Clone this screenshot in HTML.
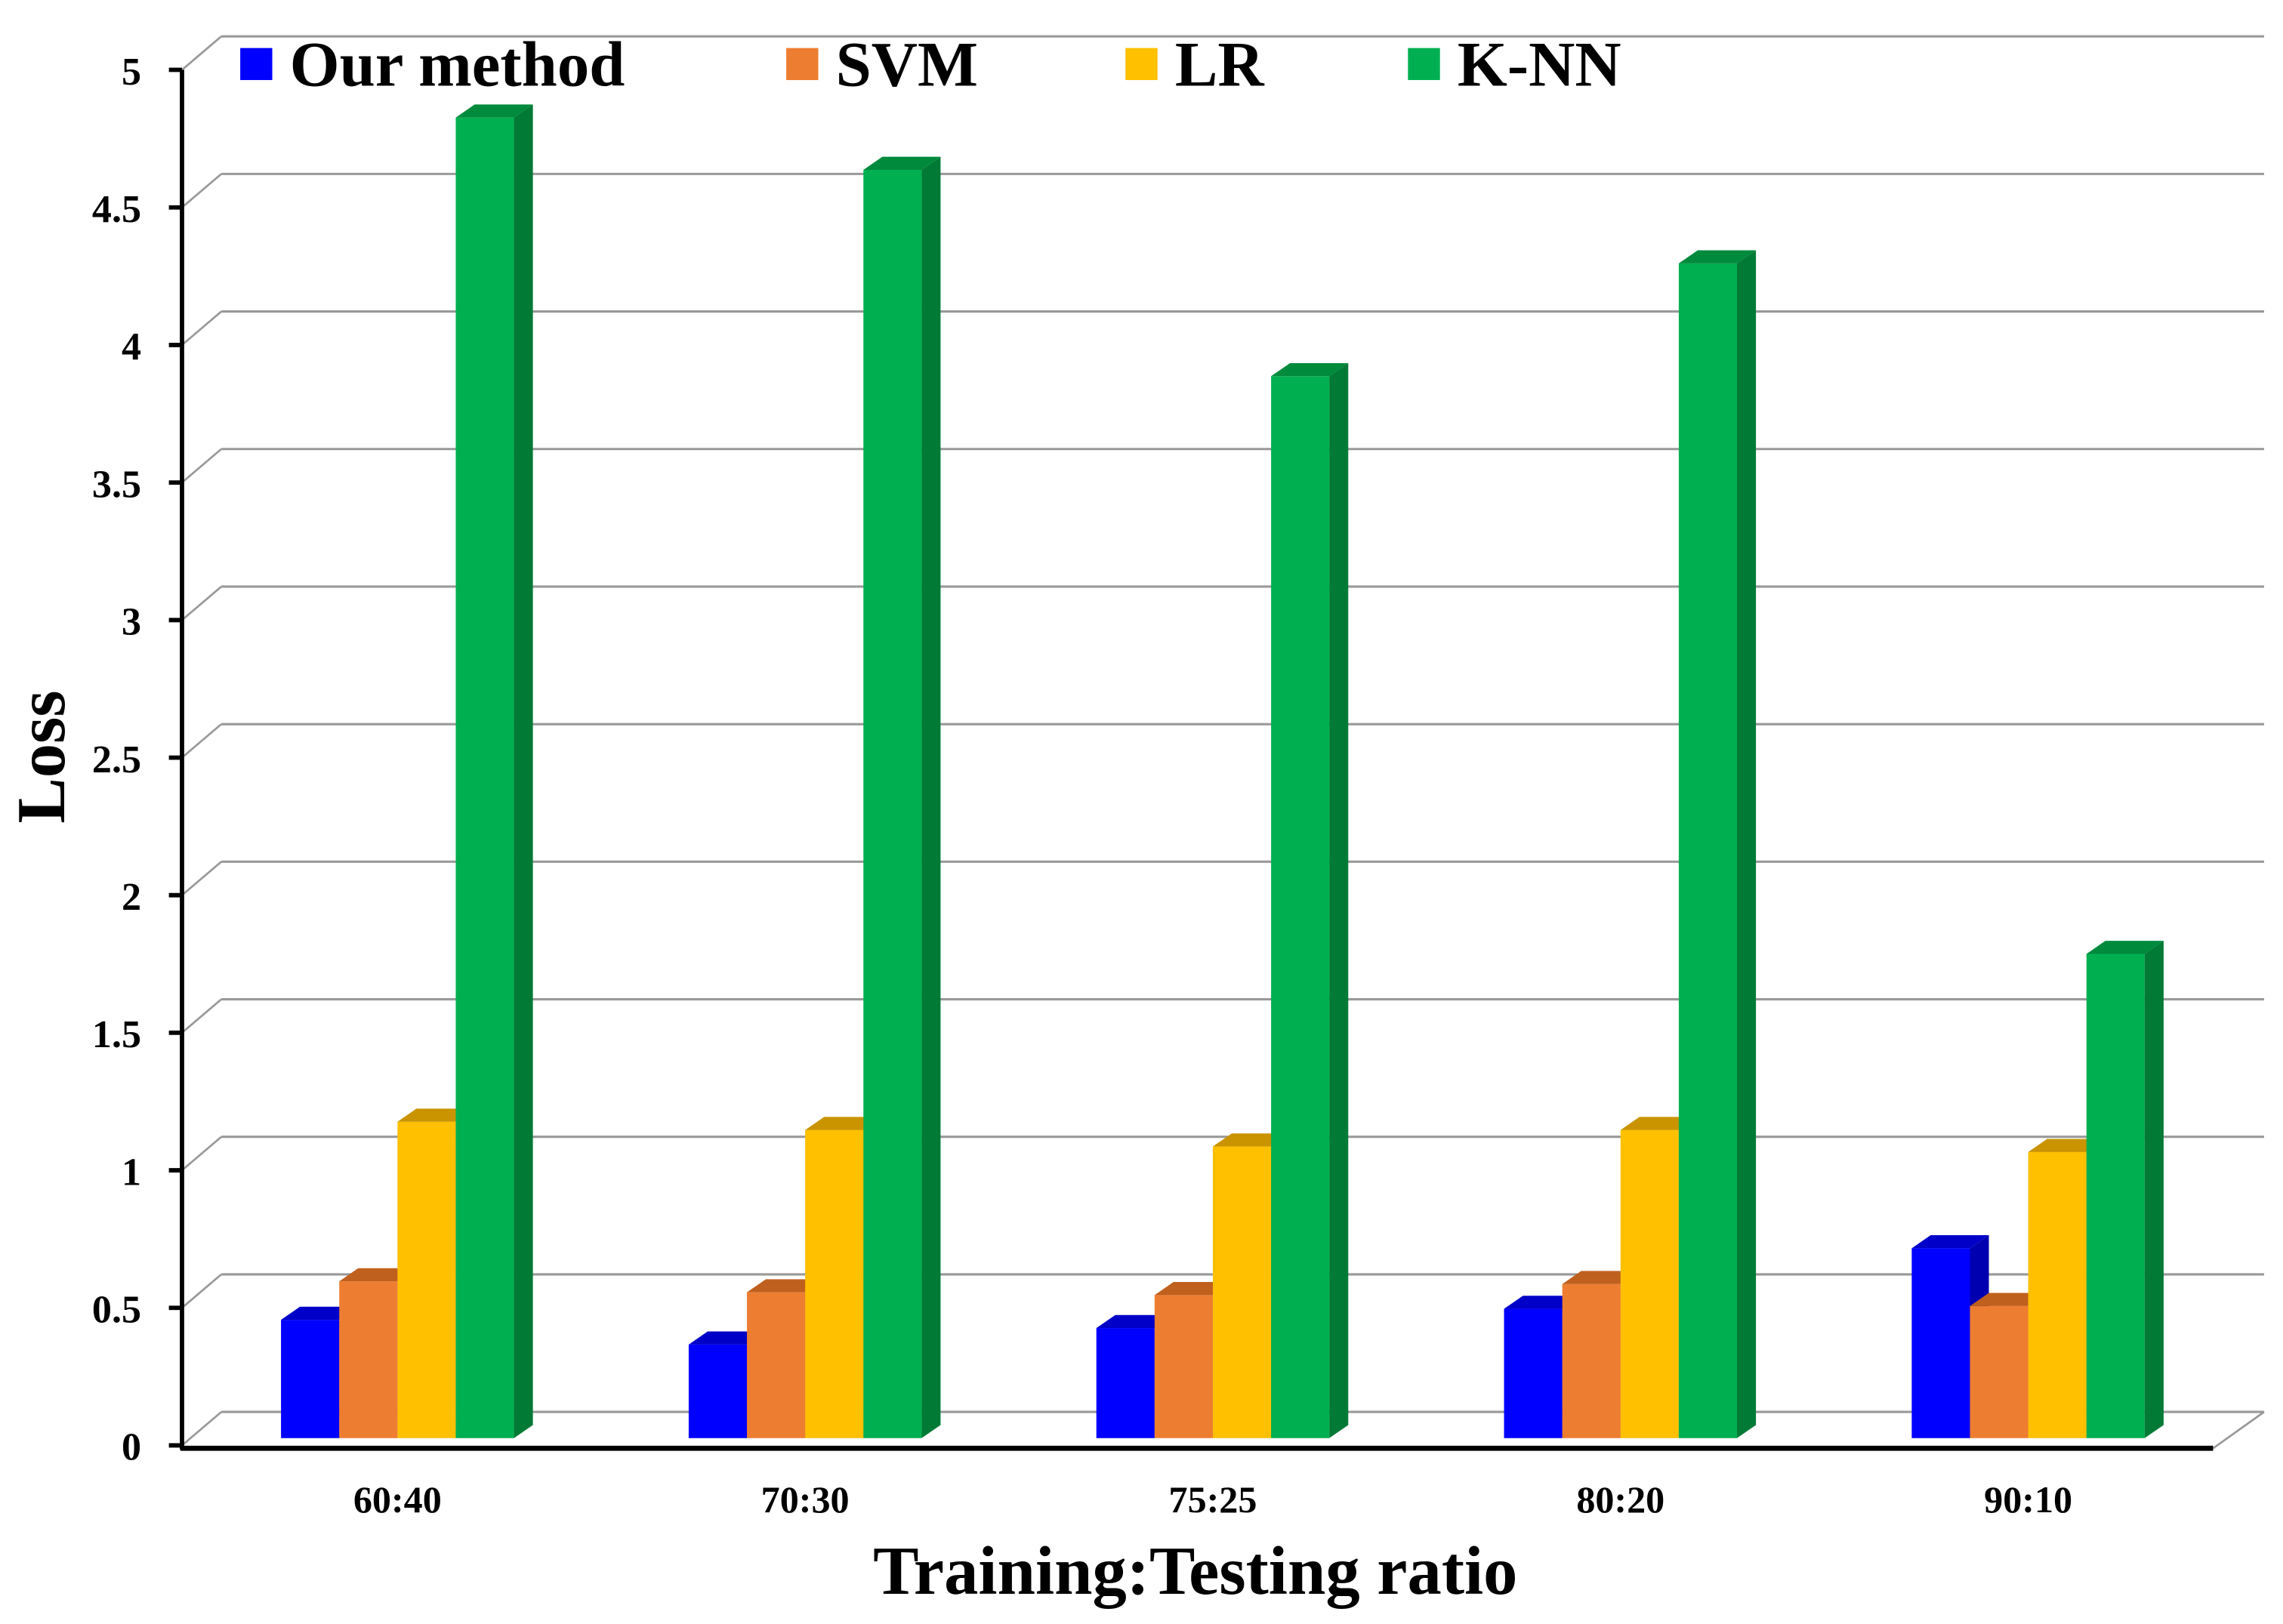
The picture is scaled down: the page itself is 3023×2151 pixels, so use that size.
<!DOCTYPE html>
<html><head><meta charset="utf-8"><style>
html,body{margin:0;padding:0;background:#fff;}
svg{display:block;font-family:"Liberation Serif",serif;}
</style></head><body>
<svg id="chart" width="3023" height="2151" viewBox="0 0 1568 1115.7" preserveAspectRatio="none" xmlns="http://www.w3.org/2000/svg">
<g id="grid"></g>
<g id="axes"></g>
<g id="bars"></g>
<g id="legend"></g>
<text x="821" y="1095" text-anchor="middle" font-weight="bold" font-size="47">Training:Testing ratio</text>
<text transform="translate(44,520) rotate(-90)" text-anchor="middle" font-weight="bold" font-size="47">Loss</text>
</svg>
<script>
const categories = ["60:40","70:30","75:25","80:20","90:10"];
const seriesNames = ["Our method","SVM","LR","K-NN"];
const ourMethod = [0.43,0.34,0.40,0.47,0.69];
const svm = [0.57,0.53,0.52,0.56,0.48];
const lr = [1.15,1.12,1.06,1.12,1.04];
const knn = [4.80,4.61,3.86,4.27,1.76];
const yTicks = [0,0.5,1,1.5,2,2.5,3,3.5,4,4.5,5];
const yTickLabels = ["0","0.5","1","1.5","2","2.5","3","3.5","4","4.5","5"];

const NS="http://www.w3.org/2000/svg";
const series=[ourMethod,svm,lr,knn];
const colors=[
 {front:"#0000FF",side:"#0000B0",top:"#0000C8"},
 {front:"#ED7D31",side:"#B85A1E",top:"#C0601E"},
 {front:"#FFC000",side:"#D9A000",top:"#C99400"},
 {front:"#00B050",side:"#007A35",top:"#008A3C"}];
const axisBase=993, unit=189, barBase=988, backBase=970, DX=13, DY=-9;
const yFront=v=>axisBase-v*unit;
const yBar=v=>barBase-v*unit;
const yBack=v=>backBase-v*unit;
const groupX=i=>193+i*280;
const barW=40;
function el(tag,attrs,parent){const e=document.createElementNS(NS,tag);for(const k in attrs)e.setAttribute(k,attrs[k]);parent.appendChild(e);return e;}
const grid=document.getElementById('grid'),axes=document.getElementById('axes'),bars=document.getElementById('bars'),legend=document.getElementById('legend');
yTicks.forEach((t,i)=>{
 const yb=yBack(t), yf=yFront(t);
 const g=el('line',{x1:152,y1:yb,x2:1555,y2:yb,stroke:"#999",'stroke-width':1.6},grid);
 
 
 const d=el('line',{x1:125,y1:yf,x2:152,y2:yb,stroke:"#999",'stroke-width':1.4},grid);
 
 
 const tk=el('line',{x1:116,y1:yf,x2:125,y2:yf,stroke:"#000",'stroke-width':3},axes);
 
 
 const tx=el('text',{x:97,y:yf+10,'text-anchor':'end','font-weight':'bold','font-size':27},axes);
 tx.textContent=yTickLabels[i];
 
 
});
const rd=el('line',{x1:1520,y1:995,x2:1555,y2:970,stroke:"#999",'stroke-width':1.4},grid);


const ya=el('line',{x1:125,y1:yFront(5),x2:125,y2:996,stroke:"#000",'stroke-width':3},axes);


const xa=el('line',{x1:124,y1:995,x2:1520,y2:995,stroke:"#000",'stroke-width':3.5},axes);


categories.forEach((c,i)=>{
 const tx=el('text',{x:groupX(i)+80,y:1039,'text-anchor':'middle','font-weight':'bold','font-size':26},axes);
 tx.textContent=c;
 
 
 series.forEach((s,j)=>{
  const x=groupX(i)+j*barW, yt=yBar(s[i]), col=colors[j];
  const g=el('g',{},bars);
  
  
  el('rect',{x:x,y:yt,width:barW,height:barBase-yt,fill:col.front},g);
  el('polygon',{points:`${x+barW},${yt} ${x+barW+DX},${yt+DY} ${x+barW+DX},${barBase+DY} ${x+barW},${barBase}`,fill:col.side},g);
  el('polygon',{points:`${x},${yt} ${x+DX},${yt+DY} ${x+barW+DX},${yt+DY} ${x+barW},${yt}`,fill:col.top},g);
 });
});
const legX=[165,540,773,967];
seriesNames.forEach((n,j)=>{
 const g=el('g',{},legend);
 
 
 el('rect',{x:legX[j],y:33,width:22,height:22,fill:colors[j].front},g);
 const t=el('text',{x:legX[j]+34,y:59,'font-weight':'bold','font-size':44},g);
 t.textContent=n;
});
</script>
</body></html>
